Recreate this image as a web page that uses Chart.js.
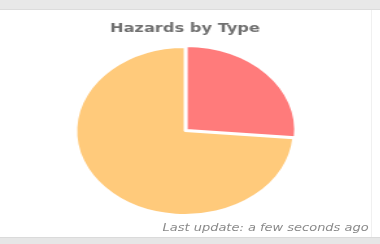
<!DOCTYPE html>
<html>
<head>
<meta charset="utf-8">
<script src="https://cdn.jsdelivr.net/npm/chart.js@4.4.1/dist/chart.umd.min.js"></script>
<style>
  html, body { margin: 0; padding: 0; background: #fff; }
  body { width: 380px; height: 244px; position: relative; overflow: hidden; }
  .bar-top { position: absolute; left: 0; top: 0; width: 380px; height: 10px; background: #e8e8e8; border-bottom: 1px solid #dcdcdc; box-sizing: border-box; }
  .bar-bottom { position: absolute; left: 0; top: 237px; width: 380px; height: 7px; background: #e6e6e6; border-top: 1px solid #dadada; box-sizing: border-box; }
  .edge { position: absolute; left: 371px; top: 10px; width: 1px; height: 227px; background: #f0f0f0; }
  /* the whole card is stretched sideways like in the reference */
  .card { position: absolute; left: 0; top: 10px; width: 285px; height: 227px; transform: scaleX(1.298); transform-origin: 0 0; }
  .footer { position: absolute; right: 1px; top: 212px; font: italic 10px "DejaVu Sans", sans-serif; color: #8a8a8a; white-space: nowrap; }
</style>
</head>
<body>
<div class="bar-top"></div>
<div class="edge"></div>
<div class="card">
  <canvas id="hazardChart"></canvas>
  <div class="footer">Last update: a few seconds ago</div>
</div>
<div class="bar-bottom"></div>
<script>
// hazard counts by type
var hazardTypes = ['Type A', 'Type B'];
var hazardCounts = [19, 53];
var hazardColors = ['#ff7b7b', '#ffca7b'];

var hazardChartInstance = null;

function createHazardChart() {
    const ctx = document.getElementById('hazardChart');
    if (!ctx) return;
    if (hazardChartInstance) hazardChartInstance.destroy();

    hazardChartInstance = new Chart(ctx, {
        type: 'pie',
        data: {
            labels: hazardTypes,
            datasets: [{
                data: hazardCounts,
                backgroundColor: hazardColors,
                borderColor: '#fff',
                borderWidth: 2,
                offset: [6, 0]
            }]
        },
        options: {
            responsive: true, maintainAspectRatio: false, animation: false,
            layout: { padding: { bottom: 18 } },
            plugins: {
                legend: { display: false },
                tooltip: { enabled: false },
                title: {
                    display: true,
                    text: 'Hazards by Type',
                    color: '#707070',
                    font: { family: 'DejaVu Sans', size: 12.5, weight: 'bold' },
                    padding: { top: 11, bottom: 7 }
                }
            }
        }
    });
}

createHazardChart();
</script>
</body>
</html>
